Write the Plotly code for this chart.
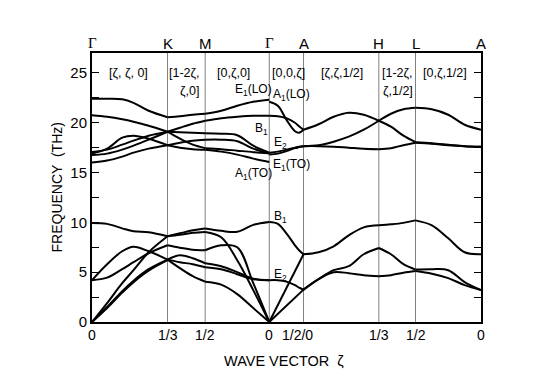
import plotly.graph_objects as go

# ---------------- data ----------------
node_labels = ["Γ", "K", "M", "Γ", "A", "H", "L", "A"]
node_pos = [0, 75.4, 113, 177, 211.2, 286.4, 323, 388.4]   # path length along wave vector
tick_text = ["0", "1/3", "1/2", "0", "1/2/0", "1/3", "1/2", "0"]
y_ticks = [0, 5, 10, 15, 20, 25]

# Γ-K  [ζ, ζ, 0]
F_GK = [0, 0.2, 0.4, 0.55, 0.75, 1.0]
GK_bands = [
    [22.4, 22.4, 22.35, 22.0, 21.2, 20.55],
    [20.75, 20.6, 20.35, 20.1, 19.7, 19.1],
    [16.9, 17.4, 18.5, 18.7, 18.4, 17.75],
    [17.05, 17.3, 17.8, 18.2, 18.7, 19.1],
    [16.75, 16.9, 17.3, 17.7, 18.3, 19.1],
    [16.0, 16.2, 16.6, 17.0, 17.4, 17.75],
    [9.94, 9.85, 9.4, 9.1, 9.0, 8.6],
    [0, 1.9, 3.9, 5.2, 7.0, 8.6],
    [4.2, 5.8, 7.1, 7.55, 7.1, 6.26],
    [4.2, 4.45, 5.3, 6.0, 6.9, 7.7],
    [0, 1.5, 3.1, 4.15, 5.3, 6.26],
    [0, 1.4, 2.95, 4.0, 5.15, 6.2],
]

# K-M  [1-2ζ, ζ, 0]
F_KM = [0, 0.33, 0.67, 1.0]
KM_bands = [
    [20.55, 20.65, 20.8, 20.9],
    [19.1, 19.5, 19.9, 20.2],
    [19.1, 19.05, 19.0, 18.95],
    [19.1, 18.4, 17.8, 17.45],
    [17.75, 18.0, 18.2, 18.3],
    [17.75, 17.5, 17.35, 17.3],
    [8.6, 8.9, 9.2, 9.38],
    [8.6, 8.75, 8.95, 9.04],
    [7.7, 7.45, 7.25, 7.2],
    [6.26, 6.7, 6.4, 5.9],
    [6.26, 6.0, 5.8, 5.5],
    [6.26, 5.4, 4.6, 4.05],
]

# M-Γ  [0, ζ, 0]
F_MG = [0, 0.25, 0.5, 0.75, 1.0]
MG_bands = [
    [20.9, 21.2, 21.7, 22.1, 22.3],
    [20.2, 20.45, 20.6, 20.7, 20.7],
    [18.95, 18.9, 18.75, 17.7, 17.0],
    [17.45, 17.35, 17.2, 17.05, 16.95],
    [18.3, 18.3, 18.15, 17.4, 16.9],
    [17.3, 17.1, 16.8, 16.4, 16.05],
    [9.38, 9.15, 9.05, 9.75, 10.04],
    [9.04, 8.5, 6.2, 3.2, 0],
    [7.2, 7.7, 7.5, 3.9, 0],
    [5.9, 5.6, 5.0, 4.35, 4.2],
    [5.5, 5.3, 4.8, 4.3, 4.2],
    [4.05, 3.75, 2.8, 1.4, 0],
]

# Γ-A  [0, 0, ζ]
F_GA = [0, 0.25, 0.5, 0.75, 0.87, 1.0]
GA_bands = [
    [22.1, 21.7, 20.3, 19.15, 19.0, 19.3],
    [20.7, 20.65, 20.45, 20.0, 19.65, 19.3],
    [17.0, 17.1, 17.3, 17.5, 17.6, 17.65],
    [16.8, 16.9, 17.15, 17.45, 17.55, 17.65],
    [10.04, 9.85, 8.9, 7.7, 7.2, 6.8],
    [4.2, 4.2, 4.05, 3.7, 3.45, 3.25],
]
F_GA_lin = [0, 1.0]
GA_lin_bands = [
    [0, 6.8],
    [0, 3.25],
]

# A-H  [ζ, ζ, 1/2]
F_AH = [0, 0.2, 0.4, 0.6, 0.8, 1.0]
AH_bands = [
    [19.3, 19.85, 20.6, 21.0, 20.8, 20.2],
    [17.65, 17.75, 18.1, 18.6, 19.3, 20.2],
    [17.65, 17.65, 17.6, 17.5, 17.4, 17.35],
    [6.8, 7.0, 7.6, 8.7, 9.5, 9.7],
    [3.25, 4.3, 5.2, 5.6, 6.8, 7.43],
    [3.25, 4.3, 5.0, 4.9, 4.7, 4.6],
]

# H-L  [1-2ζ, ζ, 1/2]
F_HL = [0, 0.33, 0.67, 1.0]
HL_bands = [
    [20.2, 19.6, 18.7, 18.05],
    [20.2, 20.9, 21.35, 21.5],
    [17.35, 17.45, 17.75, 18.0],
    [9.7, 9.8, 9.95, 10.2],
    [7.43, 6.8, 5.8, 5.26],
    [4.6, 4.7, 4.95, 5.12],
]

# L-A  [0, ζ, 1/2]
F_LA = [0, 0.25, 0.5, 0.75, 1.0]
LA_bands = [
    [21.5, 21.35, 20.8, 19.8, 19.3],
    [18.05, 17.95, 17.8, 17.65, 17.6],
    [18.0, 17.9, 17.75, 17.65, 17.6],
    [10.2, 9.7, 8.4, 7.0, 6.8],
    [5.26, 5.3, 5.2, 4.0, 3.2],
    [5.12, 4.85, 4.4, 3.7, 3.2],
]

segments = [
    (0, F_GK, GK_bands),
    (1, F_KM, KM_bands),
    (2, F_MG, MG_bands),
    (3, F_GA, GA_bands),
    (3, F_GA_lin, GA_lin_bands),
    (4, F_AH, AH_bands),
    (5, F_HL, HL_bands),
    (6, F_LA, LA_bands),
]

direction_labels = [
    ("[ζ, ζ, 0]", 36.7, 25.0),
    ("[1-2ζ,", 92.7, 25.0),
    ("ζ,0]", 97.7, 23.2),
    ("[0,ζ,0]", 141.2, 25.0),
    ("[0,0,ζ]", 195.7, 25.0),
    ("[ζ,ζ,1/2]", 249.7, 25.0),
    ("[1-2ζ,", 304.7, 25.0),
    ("ζ,1/2]", 305.7, 23.2),
    ("[0,ζ,1/2]", 352.7, 25.0),
]

mode_labels = [
    ("E<sub>1</sub>(LO)", 140.7, 23.3),
    ("A<sub>1</sub>(LO)", 178.7, 22.8),
    ("B<sub>1</sub>", 160.7, 19.4),
    ("E<sub>2</sub>", 179.7, 18.0),
    ("E<sub>1</sub>(TO)", 178.7, 15.8),
    ("A<sub>1</sub>(TO)", 140.7, 14.9),
    ("B<sub>1</sub>", 179.7, 10.5),
    ("E<sub>2</sub>", 179.7, 4.75),
]

# ---------------- figure ----------------
SANS = "Liberation Sans, Arial, sans-serif"
fig = go.Figure()

for seg_i, fracs, bands in segments:
    x0, x1 = node_pos[seg_i], node_pos[seg_i + 1]
    xs = [x0 + f * (x1 - x0) for f in fracs]
    for b in bands:
        fig.add_trace(go.Scatter(
            x=xs, y=b, mode="lines",
            line=dict(color="black", width=2, shape="spline", smoothing=1.0),
            showlegend=False, hoverinfo="skip"))

# vertical lines at high-symmetry points
for p in node_pos[1:-1]:
    fig.add_shape(type="line", x0=p, x1=p, y0=0, y1=1, xref="x", yref="paper",
                  line=dict(color="#808080", width=1), layer="below")

ann = []
for lab, p in zip(node_labels, node_pos):
    fam = "Liberation Serif, Times New Roman, serif" if lab == "Γ" else SANS
    ann.append(dict(x=p, y=1.037, xref="x", yref="paper", text=lab, showarrow=False,
                    xanchor="center", yanchor="middle", font=dict(family=fam, size=15, color="black")))

for lab, p in zip(tick_text, node_pos):
    dx = -6 if lab == "1/2/0" else 0
    ann.append(dict(x=p + dx, y=-0.048, xref="x", yref="paper", text=lab, showarrow=False,
                    xanchor="center", yanchor="middle", font=dict(family=SANS, size=14, color="black")))

for txt, x, y in direction_labels:
    ann.append(dict(x=x, y=y, xref="x", yref="y", text=txt, showarrow=False,
                    xanchor="center", yanchor="middle", font=dict(family=SANS, size=12.5, color="black")))

for txt, x, y in mode_labels:
    ann.append(dict(x=x, y=y, xref="x", yref="y", text=txt, showarrow=False,
                    xanchor="left", yanchor="middle", font=dict(family=SANS, size=12, color="black")))

ann.append(dict(x=-0.09, y=0.5, xref="paper", yref="paper", text="FREQUENCY  (THz)",
                textangle=-90, showarrow=False, xanchor="center", yanchor="middle",
                font=dict(family=SANS, size=14, color="black")))
ann.append(dict(x=0.494, y=-0.145, xref="paper", yref="paper", text="WAVE VECTOR  ζ",
                showarrow=False, xanchor="center", yanchor="middle",
                font=dict(family=SANS, size=14.5, color="black")))

# the page adds an 8px body margin, so margins are shifted to land the frame
# at the reference's pixel position
fig.update_layout(
    width=554, height=389,
    margin=dict(l=84, r=81, t=45, b=75, autoexpand=False),
    paper_bgcolor="white", plot_bgcolor="white",
    annotations=ann,
    xaxis=dict(range=[node_pos[0], node_pos[-1]], showgrid=False, zeroline=False,
               showline=True, linecolor="black", linewidth=2, mirror=True,
               showticklabels=False, ticks=""),
    yaxis=dict(range=[0, 27], showgrid=False, zeroline=False,
               showline=True, linecolor="black", linewidth=2, mirror="ticks",
               tickvals=y_ticks, ticks="inside", ticklen=7, tickwidth=1, tickcolor="black",
               minor=dict(dtick=2.5, tick0=0, ticks="inside", ticklen=7, tickwidth=1, tickcolor="black"),
               tickfont=dict(family=SANS, size=15, color="black")),
)

fig.write_html("out.html")
